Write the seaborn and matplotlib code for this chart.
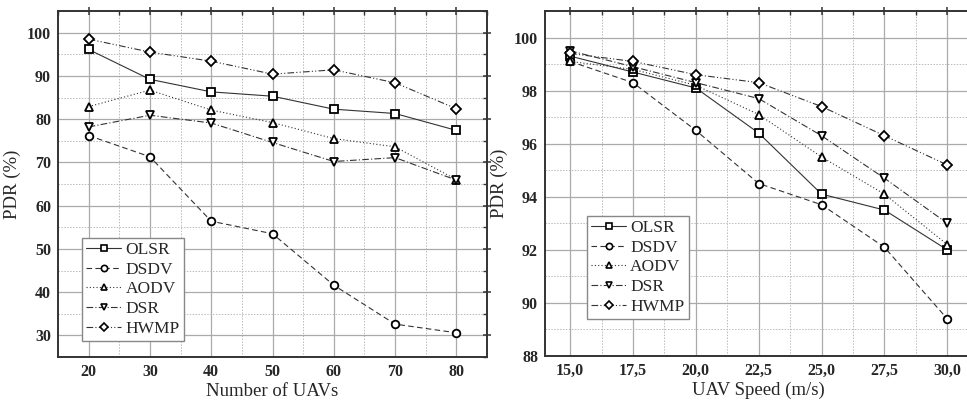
import matplotlib
matplotlib.use("Agg")
import matplotlib.pyplot as plt
import seaborn as sns
import pandas as pd
from matplotlib.ticker import MultipleLocator, FuncFormatter

# --- data ---
protocols = ["OLSR", "DSDV", "AODV", "DSR", "HWMP"]

uav_count = [20, 30, 40, 50, 60, 70, 80]
pdr_count_olsr = [96.1, 89.2, 86.3, 85.3, 82.3, 81.3, 77.4]
pdr_count_dsdv = [76.2, 71.3, 56.4, 53.5, 41.6, 32.6, 30.6]
pdr_count_aodv = [82.9, 86.7, 82.1, 79.2, 75.5, 73.6, 66.0]
pdr_count_dsr = [78.2, 80.9, 79.1, 74.6, 70.2, 71.1, 65.9]
pdr_count_hwmp = [98.5, 95.5, 93.4, 90.4, 91.4, 88.4, 82.4]

uav_speed = [15.0, 17.5, 20.0, 22.5, 25.0, 27.5, 30.0]
pdr_speed_olsr = [99.3, 98.7, 98.1, 96.4, 94.1, 93.5, 92.0]
pdr_speed_dsdv = [99.1, 98.3, 96.5, 94.5, 93.7, 92.1, 89.4]
pdr_speed_aodv = [99.1, 98.8, 98.2, 97.1, 95.5, 94.1, 92.2]
pdr_speed_dsr = [99.5, 98.9, 98.3, 97.7, 96.3, 94.7, 93.0]
pdr_speed_hwmp = [99.4, 99.1, 98.6, 98.3, 97.4, 96.3, 95.2]

estilos = {
    "OLSR": ("-", "s"),
    "DSDV": ((0, (5, 3)), "o"),
    "AODV": ((0, (1, 2)), "^"),
    "DSR": ((0, (6, 2, 1, 2)), "v"),
    "HWMP": ((0, (6, 2, 1, 2, 1, 2)), "D"),
}


def montar_df(x, series):
    linhas = []
    for prot, vals in zip(protocols, series):
        for xi, yi in zip(x, vals):
            linhas.append({"x": xi, "pdr": yi, "protocolo": prot})
    return pd.DataFrame(linhas)


df_count = montar_df(uav_count, [pdr_count_olsr, pdr_count_dsdv, pdr_count_aodv,
                                 pdr_count_dsr, pdr_count_hwmp])
df_speed = montar_df(uav_speed, [pdr_speed_olsr, pdr_speed_dsdv, pdr_speed_aodv,
                                 pdr_speed_dsr, pdr_speed_hwmp])

sns.set_theme(style="white")
plt.rcParams["font.family"] = ["Liberation Serif", "DejaVu Serif"]

fig = plt.figure(figsize=(9.67, 4.0), dpi=100)
ax1 = fig.add_axes([58 / 967, 43 / 400, 429 / 967, 346 / 400])
ax2 = fig.add_axes([545 / 967, 44 / 400, 427.4 / 967, 345 / 400])


def desenhar(ax, df):
    for prot in protocols:
        ls, mk = estilos[prot]
        ms = 5.5 if mk != "D" else 4.8
        sns.lineplot(data=df[df["protocolo"] == prot], x="x", y="pdr", ax=ax,
                     color="#333333", linewidth=0.8, linestyle=ls, marker=mk,
                     markersize=ms, markerfacecolor="white", markeredgecolor="black",
                     markeredgewidth=1.3, label=prot, zorder=3)


def estilo_eixo(ax, xmaj, xmin, ymaj, ymin):
    ax.xaxis.set_major_locator(MultipleLocator(xmaj))
    ax.xaxis.set_minor_locator(MultipleLocator(xmin))
    ax.yaxis.set_major_locator(MultipleLocator(ymaj))
    ax.yaxis.set_minor_locator(MultipleLocator(ymin))
    ax.grid(True, which="major", color="#aaaaaa", linewidth=0.9, linestyle="-")
    ax.grid(True, which="minor", color="#bbbbbb", linewidth=0.7, linestyle=(0, (1.5, 1.5)))
    ax.set_axisbelow(True)
    for s in ax.spines.values():
        s.set_color("#333333")
        s.set_linewidth(1.4)
    ax.tick_params(which="major", direction="inout", length=6, width=1.1,
                   top=True, right=True, labelsize=11.5, color="#333333", pad=2)
    ax.tick_params(which="minor", direction="in", length=3, width=1.0,
                   top=True, right=True, color="#333333")
    ax.set_ylabel("PDR (%)", fontsize=13.5, labelpad=4)


def legenda(ax, anchor):
    leg = ax.legend(loc="lower left", bbox_to_anchor=anchor, fontsize=12.5,
                    handlelength=2.0, handletextpad=0.25, labelspacing=0.2,
                    borderpad=0.25, borderaxespad=0, fancybox=False,
                    framealpha=1, edgecolor="#888888")
    for h in leg.legend_handles:
        h.set_markersize(4.5)
        h.set_markeredgewidth(1.2)
    return leg


desenhar(ax1, df_count)
ax1.set_xlim(15, 85)
ax1.set_ylim(25, 105)
estilo_eixo(ax1, 10, 5, 10, 5)
ax1.set_xticks(uav_count)
for lab in ax1.get_xticklabels() + ax1.get_yticklabels():
    lab.set_fontweight("bold")
ax1.set_xlabel("Number of UAVs", fontsize=13.5, labelpad=2)
legenda(ax1, (0.056, 0.046))

desenhar(ax2, df_speed)
ax2.set_xlim(14, 31)
ax2.set_ylim(88, 101)
estilo_eixo(ax2, 2.5, 1.25, 2, 1)
ax2.set_xticks(uav_speed)
ax2.xaxis.set_major_formatter(FuncFormatter(lambda v, p: f"{v:.1f}".replace(".", ",")))
for lab in ax2.get_xticklabels() + ax2.get_yticklabels():
    lab.set_fontweight("bold")
ax2.set_xlabel("UAV Speed (m/s)", fontsize=13.5, labelpad=2)
legenda(ax2, (0.098, 0.107))

fig.savefig("out.png", dpi=100)
